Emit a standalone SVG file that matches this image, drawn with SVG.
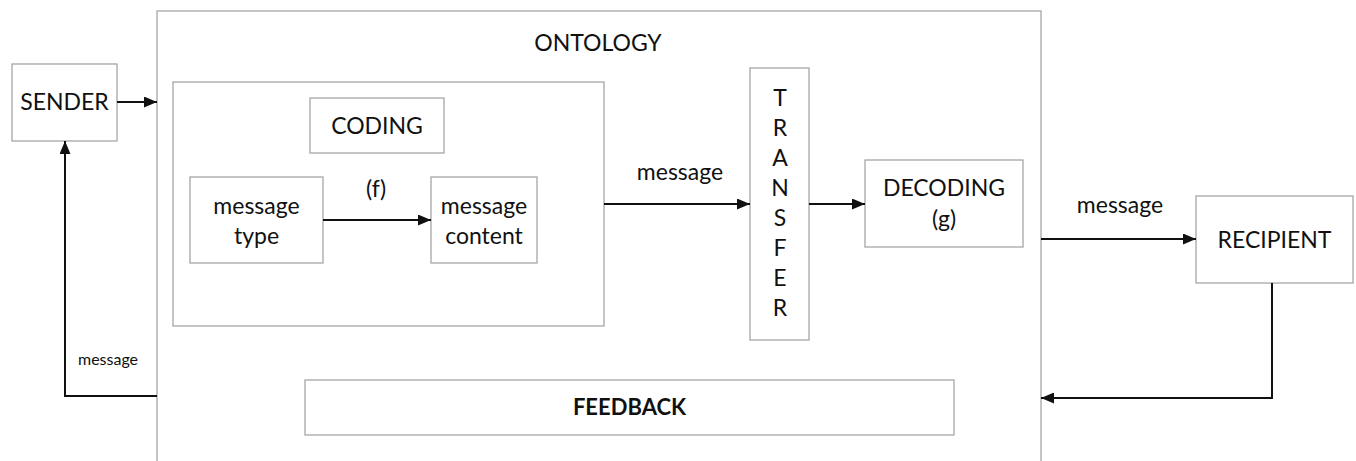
<svg xmlns="http://www.w3.org/2000/svg" width="1356" height="461" viewBox="0 0 1356 461">
  <style>
    .box { fill: #fff; stroke: #a6a6a6; stroke-width: 1.3; }
    .lbl { font-family: Lato, "Open Sans", "Liberation Sans", sans-serif; font-size: 23px; fill: #111; text-anchor: middle; }
    .small { font-size: 16px; }
    .bold { font-weight: bold; font-size: 22px; }
    .wire { fill: none; stroke: #111; stroke-width: 2; }
  </style>
  <defs>
    <marker id="arrow" viewBox="0 0 13 11" refX="13" refY="5.5" markerWidth="13" markerHeight="11" markerUnits="userSpaceOnUse" orient="auto">
      <path d="M0,0 L13,5.5 L0,11 z" fill="#111"/>
    </marker>
  </defs>
  <rect width="1356" height="461" fill="#fff"/>

  <g id="ontology">
    <rect class="box" x="157" y="11" width="884" height="470"/>
    <text class="lbl" x="598" y="51">ONTOLOGY</text>
  </g>

  <g id="sender">
    <rect class="box" x="12" y="64" width="105" height="77"/>
    <text class="lbl" x="64.5" y="110">SENDER</text>
  </g>

  <g id="coding-area">
    <rect class="box" x="173" y="82" width="431" height="244"/>
  </g>

  <g id="coding">
    <rect class="box" x="310" y="98" width="134" height="55"/>
    <text class="lbl" x="377" y="134">CODING</text>
  </g>

  <g id="message-type">
    <rect class="box" x="190" y="177" width="133" height="86"/>
    <text class="lbl" x="256.5" y="214">message</text>
    <text class="lbl" x="256.5" y="244">type</text>
  </g>

  <g id="message-content">
    <rect class="box" x="431" y="177" width="106" height="86"/>
    <text class="lbl" x="484" y="214">message</text>
    <text class="lbl" x="484" y="244">content</text>
  </g>

  <g id="transfer">
    <rect class="box" x="750" y="68" width="59" height="272"/>
    <text class="lbl" x="780" y="106">T</text>
    <text class="lbl" x="780" y="136">R</text>
    <text class="lbl" x="780" y="166">A</text>
    <text class="lbl" x="780" y="196">N</text>
    <text class="lbl" x="780" y="226">S</text>
    <text class="lbl" x="780" y="256">F</text>
    <text class="lbl" x="780" y="286">E</text>
    <text class="lbl" x="780" y="316">R</text>
  </g>

  <g id="decoding">
    <rect class="box" x="865" y="160" width="158" height="87"/>
    <text class="lbl" x="944" y="196">DECODING</text>
    <text class="lbl" x="944" y="227">(g)</text>
  </g>

  <g id="recipient">
    <rect class="box" x="1196" y="196" width="157" height="87"/>
    <text class="lbl" x="1274.5" y="248">RECIPIENT</text>
  </g>

  <g id="feedback">
    <rect class="box" x="305" y="380" width="649" height="55"/>
    <text class="lbl bold" x="629.5" y="415">FEEDBACK</text>
  </g>

  <g id="connectors">
    <line class="wire" x1="117" y1="102" x2="157" y2="102" marker-end="url(#arrow)"/>
    <line class="wire" x1="323" y1="220" x2="431" y2="220" marker-end="url(#arrow)"/>
    <text class="lbl" x="376" y="197">(f)</text>
    <line class="wire" x1="604" y1="204" x2="750" y2="204" marker-end="url(#arrow)"/>
    <text class="lbl" x="680" y="180">message</text>
    <line class="wire" x1="809" y1="204" x2="865" y2="204" marker-end="url(#arrow)"/>
    <line class="wire" x1="1041" y1="239" x2="1196" y2="239" marker-end="url(#arrow)"/>
    <text class="lbl" x="1120" y="213">message</text>
    <polyline class="wire" points="1272,283 1272,398 1041,398" marker-end="url(#arrow)"/>
    <polyline class="wire" points="157,396 65,396 65,141" marker-end="url(#arrow)"/>
    <text class="lbl small" x="108" y="365">message</text>
  </g>
</svg>
